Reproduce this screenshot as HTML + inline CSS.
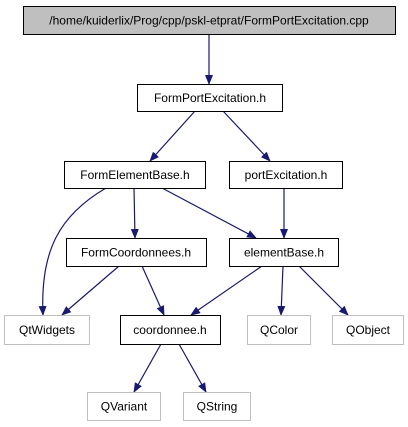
<!DOCTYPE html>
<html><head><style>
body{margin:0;background:#fff}
svg{display:block}
text{font-family:"Liberation Sans",sans-serif;font-size:12px;text-anchor:middle}
</style></head><body>
<svg width="408" height="427" viewBox="0 0 408 427">
<defs><marker id="a" markerWidth="10" markerHeight="10" refX="9" refY="5" orient="auto" markerUnits="userSpaceOnUse"><path d="M0,1 L10,5 L0,9 Z" fill="#191970"/></marker></defs>
<g stroke="#191970" stroke-width="1.2" fill="none" marker-end="url(#a)">
<path d="M209,34 L209,84"/>
<path d="M195,111 L150,161"/>
<path d="M223,111 L270,161"/>
<path d="M106,188 C60,215 40,250 43,315"/>
<path d="M134,188 L135,238"/>
<path d="M162,188 L256,238"/>
<path d="M284,188 L284,238"/>
<path d="M119,266 L62,315"/>
<path d="M142,266 L164,315"/>
<path d="M262,266 L191,315"/>
<path d="M283,266 L281,315"/>
<path d="M299,266 L348,315"/>
<path d="M161,344 L134,392"/>
<path d="M179,344 L206,392"/>
</g>
<g stroke-width="1">
<rect x="23.5" y="6.5" width="372" height="28" fill="#bfbfbf" stroke="#000"/>
<rect x="137.5" y="84.5" width="145" height="27" fill="#fff" stroke="#000"/>
<rect x="64.5" y="161.5" width="141" height="27" fill="#fff" stroke="#000"/>
<rect x="229.5" y="161.5" width="113" height="27" fill="#fff" stroke="#000"/>
<rect x="66.5" y="238.5" width="140" height="28" fill="#fff" stroke="#000"/>
<rect x="229.5" y="238.5" width="109" height="28" fill="#fff" stroke="#000"/>
<rect x="4.5" y="315.5" width="85" height="29" fill="#fff" stroke="#bfbfbf"/>
<rect x="120.5" y="315.5" width="100" height="29" fill="#fff" stroke="#000"/>
<rect x="247.5" y="315.5" width="63" height="29" fill="#fff" stroke="#bfbfbf"/>
<rect x="332.5" y="315.5" width="71" height="29" fill="#fff" stroke="#bfbfbf"/>
<rect x="87.5" y="392.5" width="73" height="28" fill="#fff" stroke="#bfbfbf"/>
<rect x="183.5" y="392.5" width="67" height="28" fill="#fff" stroke="#bfbfbf"/>
</g>
<g fill="#000">
<text x="209" y="24.5">/home/kuiderlix/Prog/cpp/pskl-etprat/FormPortExcitation.cpp</text>
<text x="210" y="102">FormPortExcitation.h</text>
<text x="135" y="179">FormElementBase.h</text>
<text x="286" y="179">portExcitation.h</text>
<text x="136" y="256.5">FormCoordonnees.h</text>
<text x="284" y="256.5">elementBase.h</text>
<text x="47" y="334">QtWidgets</text>
<text x="170" y="334">coordonnee.h</text>
<text x="279" y="334">QColor</text>
<text x="368" y="334">QObject</text>
<text x="124" y="410.5">QVariant</text>
<text x="217" y="410.5">QString</text>
</g>
</svg>
</body></html>
